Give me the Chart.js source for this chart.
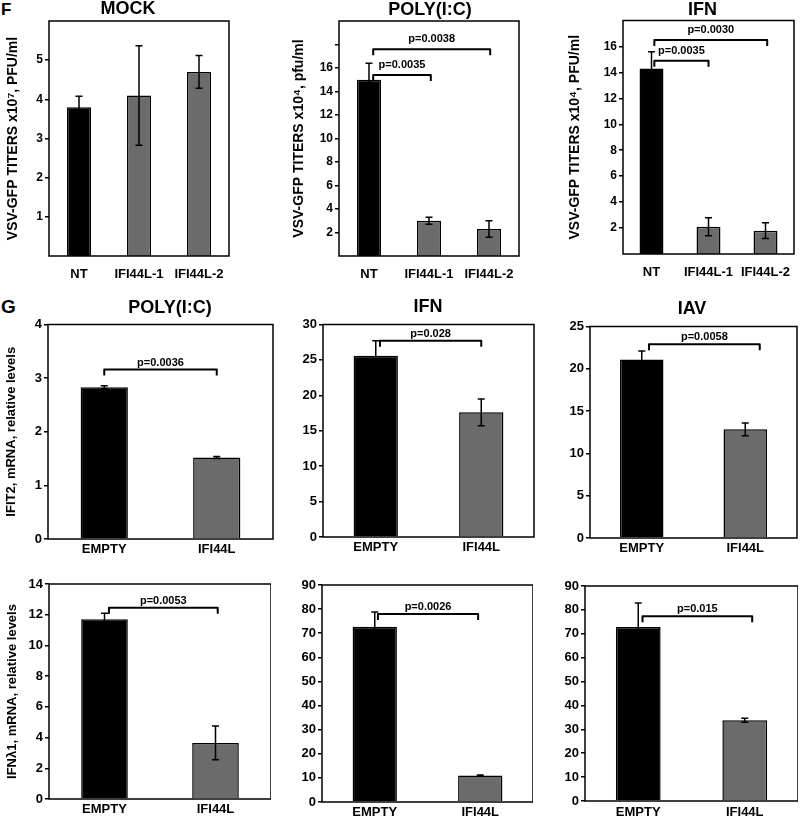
<!DOCTYPE html>
<html><head><meta charset="utf-8">
<script src="https://cdn.jsdelivr.net/npm/chart.js@4.4.0/dist/chart.umd.min.js"></script>
<style>
html,body{margin:0;padding:0;background:#fff;width:800px;height:823px;overflow:hidden;position:relative}
canvas{position:absolute}
.lbl{position:absolute;font-family:"Liberation Sans",Arial,sans-serif;font-weight:bold;line-height:1;color:#000}
</style></head><body>
<div class="lbl" style="left:1px;top:1px;font-size:17px">F</div>
<div class="lbl" style="left:1px;top:297px;font-size:19px">G</div>
<script>
// ---------- DATA ----------
const fCategories = ['NT', 'IFI44L-1', 'IFI44L-2'];
const gCategories = ['EMPTY', 'IFI44L'];

const mockValues = [3.8, 4.1, 4.7];
const mockErrors = [0.28, 1.27, 0.42];
const mockTicks = [1, 2, 3, 4, 5];
const mockTickLabels = ['1', '2', '3', '4', '5'];

const polyFValues = [15.0, 3.0, 2.3];
const polyFErrors = [1.4, 0.3, 0.7];
const polyFTicks = [2, 4, 6, 8, 10, 12, 14, 16, 18];
const polyFTickLabels = ['2', '4', '6', '8', '10', '12', '14', '16', ''];
const polyFBracketFrom = [0.07, 0.07];
const polyFBracketTo = [2.02, 1.03];
const polyFBracketY = [17.6, 15.4];
const polyFBracketLabels = ['p=0.0038', 'p=0.0035'];

const ifnFValues = [14.3, 2.1, 1.8];
const ifnFErrors = [1.3, 0.7, 0.6];
const ifnFTicks = [2, 4, 6, 8, 10, 12, 14, 16];
const ifnFTickLabels = ['2', '4', '6', '8', '10', '12', '14', '16'];
const ifnFBracketFrom = [0.05, 0.05];
const ifnFBracketTo = [2.03, 1.0];
const ifnFBracketY = [16.5, 14.9];
const ifnFBracketLabels = ['p=0.0030', 'p=0.0035'];

const ifit2PolyValues = [2.83, 1.52];
const ifit2PolyErrors = [0.03, 0.02];
const ifit2PolyTicks = [0, 1, 2, 3, 4];
const ifit2PolyTickLabels = ['0', '1', '2', '3', '4'];
const ifit2PolyBracket = {from: [0.0], to: [1.0], y: [3.16], labels: ['p=0.0036']};

const ifit2IfnValues = [25.6, 17.6];
const ifit2IfnErrors = [2.1, 1.9];
const ifit2IfnTicks = [0, 5, 10, 15, 20, 25, 30];
const ifit2IfnTickLabels = ['0', '5', '10', '15', '20', '25', '30'];
const ifit2IfnBracket = {from: [0.04], to: [1.0], y: [27.7], labels: ['p=0.028']};

const ifit2IavValues = [21.1, 12.85];
const ifit2IavErrors = [1.0, 0.75];
const ifit2IavTicks = [0, 5, 10, 15, 20, 25];
const ifit2IavTickLabels = ['0', '5', '10', '15', '20', '25'];
const ifit2IavBracket = {from: [0.07], to: [1.14], y: [22.9], labels: ['p=0.0058']};

const ifnl1PolyValues = [11.7, 3.65];
const ifnl1PolyErrors = [0.4, 1.1];
const ifnl1PolyTicks = [0, 2, 4, 6, 8, 10, 12, 14];
const ifnl1PolyTickLabels = ['0', '2', '4', '6', '8', '10', '12', '14'];
const ifnl1PolyBracket = {from: [0.04], to: [1.02], y: [12.45], labels: ['p=0.0053']};

const ifnl1IfnValues = [72.7, 11.0];
const ifnl1IfnErrors = [6.1, 0.2];
const ifnl1Ticks = [0, 10, 20, 30, 40, 50, 60, 70, 80, 90];
const ifnl1TickLabels = ['0', '10', '20', '30', '40', '50', '60', '70', '80', '90'];
const ifnl1IfnBracket = {from: [0.03], to: [0.98], y: [78.0], labels: ['p=0.0026']};

const ifnl1IavValues = [72.8, 33.8];
const ifnl1IavErrors = [10.1, 0.8];
const ifnl1IavBracket = {from: [0.04], to: [1.07], y: [77.3], labels: ['p=0.015']};

const fColors = ['#000000', '#6b6b6b', '#6b6b6b'];
const gColors = ['#000000', '#6b6b6b'];

// ---------- DRAWING ----------
const FONT = '"Liberation Sans", Arial, sans-serif';

function errorPlugin(errors) {
  return {
    id: 'errorBars',
    afterDatasetsDraw(chart) {
      const ctx = chart.ctx, y = chart.scales.y;
      const meta = chart.getDatasetMeta(0);
      const data = chart.data.datasets[0].data;
      ctx.save();
      ctx.strokeStyle = '#000';
      ctx.lineWidth = 1.5;
      meta.data.forEach((bar, i) => {
        const e = errors[i];
        const hi = y.getPixelForValue(data[i] + e);
        const lo = y.getPixelForValue(data[i] - e);
        const x = bar.x, c = 3.5;
        ctx.beginPath();
        ctx.moveTo(x, hi); ctx.lineTo(x, lo);
        ctx.moveTo(x - c, hi); ctx.lineTo(x + c, hi);
        ctx.moveTo(x - c, lo); ctx.lineTo(x + c, lo);
        ctx.stroke();
      });
      ctx.restore();
    }
  };
}

function bracketPlugin(br, gap) {
  return {
    id: 'brackets',
    afterDatasetsDraw(chart) {
      if (!br) return;
      const ctx = chart.ctx, xs = chart.scales.x, ys = chart.scales.y;
      const tip = 6;
      ctx.save();
      ctx.strokeStyle = '#000';
      ctx.fillStyle = '#000';
      ctx.lineWidth = 2;
      ctx.lineJoin = 'round';
      ctx.font = 'bold 11px ' + FONT;
      ctx.textAlign = 'center';
      ctx.textBaseline = 'middle';
      br.from.forEach((f, i) => {
        const x1 = xs.getPixelForValue(f), x2 = xs.getPixelForValue(br.to[i]);
        const yy = ys.getPixelForValue(br.y[i]);
        ctx.beginPath();
        ctx.moveTo(x1, yy + tip); ctx.lineTo(x1, yy); ctx.lineTo(x2, yy); ctx.lineTo(x2, yy + tip);
        ctx.stroke();
        ctx.fillText(br.labels[i], (x1 + x2) / 2, yy - gap);
      });
      ctx.restore();
    }
  };
}

const framePlugin = {
  id: 'frame',
  afterDatasetsDraw(chart) {
    const a = chart.chartArea, ctx = chart.ctx;
    ctx.save();
    ctx.strokeStyle = '#000';
    ctx.lineWidth = 1.5;
    ctx.strokeRect(a.left, a.top, a.right - a.left, a.bottom - a.top);
    ctx.restore();
  }
};

function makePanel(p) {
  const cv = document.createElement('canvas');
  const W = p.W, H = p.PB - p.T + p.xH;
  cv.width = W; cv.height = H;
  cv.style.left = p.L + 'px'; cv.style.top = p.T + 'px';
  cv.style.width = W + 'px'; cv.style.height = H + 'px';
  document.body.appendChild(cv);
  const dummy = p.L + W - p.PR;
  const scales = {
    x: {
      type: 'category', offset: true,
      grid: {display: false, drawTicks: false}, border: {display: false},
      ticks: {color: '#000', font: {family: FONT, size: 13, weight: 'bold'}, padding: p.xPad, maxRotation: 0, autoSkip: false},
      afterFit(s) { s.height = p.xH; }
    },
    y: {
      type: 'linear', min: p.min, max: p.max,
      afterBuildTicks(s) { s.ticks = p.ticks.map(v => ({value: v})); },
      ticks: {color: '#000', font: {family: FONT, size: p.tickSize, weight: 'bold'}, padding: 2,
              callback: (v, i) => p.tickLabels[i]},
      grid: {drawOnChartArea: false, drawTicks: true, tickLength: 4, color: '#000', lineWidth: 1.5},
      border: {display: false},
      title: {display: !!p.yTitle, text: p.yTitle || '', color: '#000',
              font: {family: FONT, size: p.yTitleSize || 14, weight: 'bold', lineHeight: 1.2},
              padding: {top: p.yTitlePad || 0, bottom: 0}},
      afterFit(s) { s.width = p.PL - p.L; }
    }
  };
  if (dummy > 0) {
    scales.yPad = {
      type: 'linear', position: 'right', display: true,
      grid: {display: false, drawTicks: false}, border: {display: false},
      ticks: {display: false},
      afterFit(s) { s.width = dummy; }
    };
  }
  const titleH = p.title ? 18 : 0;
  new Chart(cv, {
    type: 'bar',
    data: {
      labels: p.categories,
      datasets: [{
        data: p.values,
        backgroundColor: p.colors,
        borderColor: '#000',
        borderWidth: 1.5,
        categoryPercentage: 1,
        barPercentage: p.barPct,
        yAxisID: 'y'
      }]
    },
    options: {
      responsive: false, animation: false, devicePixelRatio: 1,
      layout: {padding: {top: p.title ? 0 : (p.PT - p.T), left: 0, right: 0, bottom: 0}},
      plugins: {
        legend: {display: false}, tooltip: {enabled: false},
        title: p.title ? {display: true, text: p.title, color: '#000',
          font: {family: FONT, size: 18, weight: 'bold', lineHeight: 1},
          padding: {top: 0, bottom: p.PT - p.T - titleH}} : {display: false}
      },
      scales
    },
    plugins: [errorPlugin(p.errors), bracketPlugin(p.bracket, p.gap), framePlugin]
  });
}

// Row F
makePanel({L: 0, T: 0, W: 256, PL: 49, PR: 229, PT: 21, PB: 256, xH: 30, xPad: 11,
  title: 'MOCK', yTitle: 'VSV-GFP TITERS x10\u2077, PFU/ml', yTitlePad: 5,
  categories: fCategories, values: mockValues, errors: mockErrors, colors: fColors,
  min: 0, max: 6, ticks: mockTicks, tickLabels: mockTickLabels, tickSize: 12, barPct: 0.4,
  bracket: null, gap: 10});

makePanel({L: 290, T: 1, W: 280, PL: 339, PR: 519, PT: 21, PB: 256, xH: 30, xPad: 11,
  title: 'POLY(I:C)', yTitle: 'VSV-GFP TITERS x10\u2074, pfu/ml', yTitlePad: 0.6,
  categories: fCategories, values: polyFValues, errors: polyFErrors, colors: fColors,
  min: 0, max: 20, ticks: polyFTicks, tickLabels: polyFTickLabels, tickSize: 12, barPct: 0.4,
  bracket: {from: polyFBracketFrom, to: polyFBracketTo, y: polyFBracketY, labels: polyFBracketLabels}, gap: 10});

makePanel({L: 565, T: 0.5, W: 275, PL: 623, PR: 794, PT: 20, PB: 254, xH: 30, xPad: 11,
  title: 'IFN', yTitle: 'VSV-GFP TITERS x10\u2074, PFU/ml', yTitlePad: 1.6,
  categories: fCategories, values: ifnFValues, errors: ifnFErrors, colors: fColors,
  min: 0, max: 18, ticks: ifnFTicks, tickLabels: ifnFTickLabels, tickSize: 12, barPct: 0.42,
  bracket: {from: ifnFBracketFrom, to: ifnFBracketTo, y: ifnFBracketY, labels: ifnFBracketLabels}, gap: 10});

// Row G (IFIT2)
makePanel({L: 0, T: 298.5, W: 340, PL: 48, PR: 273, PT: 324, PB: 539, xH: 22, xPad: 3,
  title: 'POLY(I:C)', yTitle: 'IFIT2, mRNA, relative levels', yTitleSize: 13, yTitlePad: 3.2,
  categories: gCategories, values: ifit2PolyValues, errors: ifit2PolyErrors, colors: gColors,
  min: 0, max: 4, ticks: ifit2PolyTicks, tickLabels: ifit2PolyTickLabels, tickSize: 13, barPct: 0.42,
  bracket: ifit2PolyBracket, gap: 7});

makePanel({L: 290, T: 297.5, W: 276, PL: 323, PR: 534, PT: 324, PB: 537, xH: 22, xPad: 3,
  title: 'IFN',
  categories: gCategories, values: ifit2IfnValues, errors: ifit2IfnErrors, colors: gColors,
  min: 0, max: 30, ticks: ifit2IfnTicks, tickLabels: ifit2IfnTickLabels, tickSize: 13, barPct: 0.42,
  bracket: ifit2IfnBracket, gap: 7});

makePanel({L: 555, T: 299.5, W: 274, PL: 590, PR: 797, PT: 326, PB: 538, xH: 22, xPad: 3,
  title: 'IAV',
  categories: gCategories, values: ifit2IavValues, errors: ifit2IavErrors, colors: gColors,
  min: 0, max: 25, ticks: ifit2IavTicks, tickLabels: ifit2IavTickLabels, tickSize: 13, barPct: 0.42,
  bracket: ifit2IavBracket, gap: 7});

// Row G (IFNλ1)
makePanel({L: 0, T: 570, W: 271, PL: 49, PR: 271, PT: 584, PB: 799, xH: 22, xPad: 3,
  yTitle: 'IFN\u03bb1, mRNA, relative levels', yTitleSize: 13, yTitlePad: 5,
  categories: gCategories, values: ifnl1PolyValues, errors: ifnl1PolyErrors, colors: gColors,
  min: 0, max: 14, ticks: ifnl1PolyTicks, tickLabels: ifnl1PolyTickLabels, tickSize: 13, barPct: 0.42,
  bracket: ifnl1PolyBracket, gap: 7});

makePanel({L: 290, T: 571, W: 243, PL: 322, PR: 533, PT: 585, PB: 802, xH: 21, xPad: 3,
  categories: gCategories, values: ifnl1IfnValues, errors: ifnl1IfnErrors, colors: gColors,
  min: 0, max: 90, ticks: ifnl1Ticks, tickLabels: ifnl1TickLabels, tickSize: 13, barPct: 0.42,
  bracket: ifnl1IfnBracket, gap: 7});

makePanel({L: 555, T: 572, W: 243, PL: 585, PR: 798, PT: 586, PB: 801, xH: 22, xPad: 4,
  categories: gCategories, values: ifnl1IavValues, errors: ifnl1IavErrors, colors: gColors,
  min: 0, max: 90, ticks: ifnl1Ticks, tickLabels: ifnl1TickLabels, tickSize: 13, barPct: 0.42,
  bracket: ifnl1IavBracket, gap: 7});
</script>
</body></html>
